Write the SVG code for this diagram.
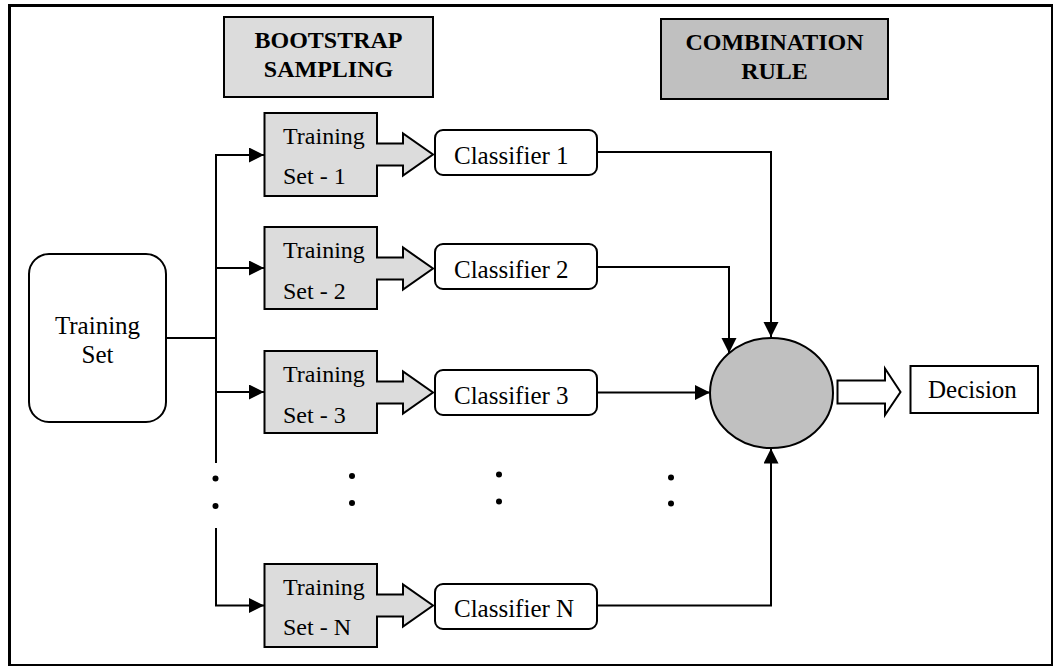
<svg xmlns="http://www.w3.org/2000/svg" width="1053" height="666" viewBox="0 0 1053 666">
<defs>
<style>
.t{font-family:"Liberation Serif","Times New Roman",serif;fill:#000}
.r{font-size:25px}
.s{font-size:24px}
.b{font-size:24px;font-weight:bold}
.ln{fill:none;stroke:#000;stroke-width:2}
.box{stroke:#000;stroke-width:2}
.light{fill:#dcdcdc}
.dark{fill:#c0c0c0}
.white{fill:#fff}
</style>
<marker id="ah" markerUnits="userSpaceOnUse" markerWidth="16" markerHeight="16" refX="15" refY="7.5" orient="auto">
<path d="M0,0 L15,7.5 L0,15 Z" fill="#000"/>
</marker>
</defs>
<rect x="0" y="0" width="1053" height="666" fill="#fff"/>
<rect x="9.5" y="5.5" width="1043" height="660" fill="none" stroke="#000" stroke-width="3"/>

<g id="hdr-bootstrap">
<rect class="box light" x="224" y="17" width="209" height="80"/>
<text class="t b" x="328.5" y="48" text-anchor="middle">BOOTSTRAP</text>
<text class="t b" x="328.5" y="77" text-anchor="middle">SAMPLING</text>
</g>
<g id="hdr-combination">
<rect class="box dark" x="661" y="19" width="227" height="80"/>
<text class="t b" x="774.5" y="50" text-anchor="middle">COMBINATION</text>
<text class="t b" x="774.5" y="79" text-anchor="middle">RULE</text>
</g>

<g id="training-set">
<rect class="box white" x="29" y="254" width="137" height="168" rx="20"/>
<text class="t r" x="97.5" y="334" text-anchor="middle">Training</text>
<text class="t r" x="97.5" y="363" text-anchor="middle">Set</text>
</g>

<g id="set-1">
<path class="box light" d="M264.5,113 H377 V143.5 H403 V133.5 L433,154.5 L403,175.5 V165.5 H377 V196 H264.5 Z"/>
<text class="t s" x="283" y="144">Training</text>
<text class="t s" x="283" y="184">Set - 1</text>
</g>
<g id="set-2">
<path class="box light" d="M264.5,227 H377 V257.5 H403 V247.5 L433,268.5 L403,289.5 V279.5 H377 V309 H264.5 Z"/>
<text class="t s" x="283" y="258">Training</text>
<text class="t s" x="283" y="299">Set - 2</text>
</g>
<g id="set-3">
<path class="box light" d="M264.5,351 H377 V381.5 H403 V371.5 L433,392.5 L403,413.5 V403.5 H377 V433 H264.5 Z"/>
<text class="t s" x="283" y="382">Training</text>
<text class="t s" x="283" y="423">Set - 3</text>
</g>
<g id="set-n">
<path class="box light" d="M264.5,564 H377 V594.5 H403 V584.5 L433,605.5 L403,626.5 V616.5 H377 V647 H264.5 Z"/>
<text class="t s" x="283" y="595">Training</text>
<text class="t s" x="283" y="635">Set - N</text>
</g>

<g id="classifier-1">
<rect class="box white" x="435" y="130" width="162" height="45" rx="8"/>
<text class="t r" x="454" y="164">Classifier 1</text>
</g>
<g id="classifier-2">
<rect class="box white" x="435" y="244" width="162" height="45" rx="8"/>
<text class="t r" x="454" y="278">Classifier 2</text>
</g>
<g id="classifier-3">
<rect class="box white" x="435" y="370" width="162" height="45" rx="8"/>
<text class="t r" x="454" y="404">Classifier 3</text>
</g>
<g id="classifier-n">
<rect class="box white" x="435" y="584" width="162" height="45" rx="8"/>
<text class="t r" x="454" y="617">Classifier N</text>
</g>

<g id="combiner">
<ellipse class="box dark" cx="771.5" cy="393" rx="61.5" ry="55"/>
</g>
<g id="output-arrow">
<path class="box white" d="M837.5,380.5 H885 V368.5 L900.5,392 L885,415 V403.5 H837.5 Z"/>
</g>
<g id="decision">
<rect class="box white" x="910.5" y="366" width="127.5" height="47"/>
<text class="t r" x="928" y="398">Decision</text>
</g>

<g id="connectors">
<path class="ln" d="M166,338 H216"/>
<path class="ln" d="M216,463 V155 H264" marker-end="url(#ah)"/>
<path class="ln" d="M216,268 H264" marker-end="url(#ah)"/>
<path class="ln" d="M216,392 H264" marker-end="url(#ah)"/>
<path class="ln" d="M216,528 V605.5 H264" marker-end="url(#ah)"/>
<path class="ln" d="M597,152 H771 V337" marker-end="url(#ah)"/>
<path class="ln" d="M597,267 H729 V353" marker-end="url(#ah)"/>
<path class="ln" d="M597,392.5 H710" marker-end="url(#ah)"/>
<path class="ln" d="M597,605.5 H771 V448.5" marker-end="url(#ah)"/>
</g>

<g id="ellipsis-dots" fill="#000">
<circle cx="215.5" cy="478.5" r="3"/>
<circle cx="215.5" cy="506" r="3"/>
<circle cx="352" cy="476" r="3"/>
<circle cx="352" cy="503" r="3"/>
<circle cx="499" cy="474.5" r="3"/>
<circle cx="499" cy="501.5" r="3"/>
<circle cx="671" cy="477.5" r="3"/>
<circle cx="671" cy="503.5" r="3"/>
</g>
</svg>
